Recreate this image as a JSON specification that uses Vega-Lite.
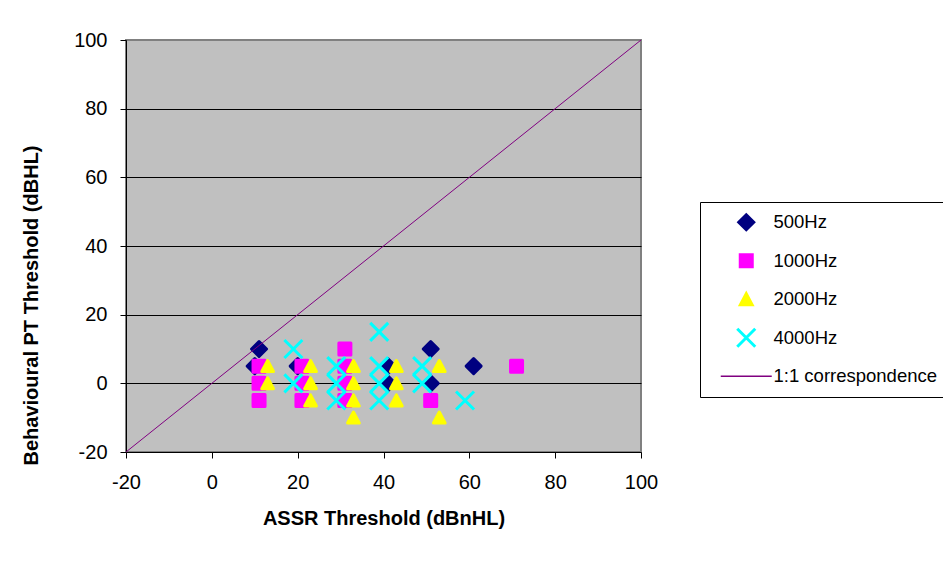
{
  "$schema": "https://vega.github.io/schema/vega-lite/v6.json",
  "width": 515,
  "height": 412,
  "autosize": {"type": "none"},
  "padding": {"left": 126, "top": 40, "right": 302, "bottom": 109},
  "background": "white",
  "config": {
    "font": "Liberation Sans",
    "view": {"fill": "#C0C0C0", "stroke": "#808080", "strokeWidth": 2},
    "axis": {
      "domainColor": "black",
      "tickColor": "black",
      "tickSize": 6,
      "labelFontSize": 20,
      "labelColor": "black",
      "titleFontSize": 20,
      "titleFontWeight": "bold",
      "titleColor": "black",
      "labelFont": "Liberation Sans",
      "titleFont": "Liberation Sans",
      "labelFlush": false,
      "labelOverlap": false,
      "labelExpr": "replace(datum.label, '\u2212', '-')"
    }
  },
  "datasets": {
    "points": [
      {"series": "500Hz", "x": 11, "y": 10},
      {"series": "500Hz", "x": 10, "y": 5},
      {"series": "500Hz", "x": 20, "y": 5},
      {"series": "500Hz", "x": 41, "y": 5},
      {"series": "500Hz", "x": 41, "y": 0},
      {"series": "500Hz", "x": 51, "y": 10},
      {"series": "500Hz", "x": 51, "y": 0},
      {"series": "500Hz", "x": 61, "y": 5},
      {"series": "1000Hz", "x": 11, "y": 5},
      {"series": "1000Hz", "x": 11, "y": 0},
      {"series": "1000Hz", "x": 11, "y": -5},
      {"series": "1000Hz", "x": 21, "y": 5},
      {"series": "1000Hz", "x": 21, "y": 0},
      {"series": "1000Hz", "x": 21, "y": -5},
      {"series": "1000Hz", "x": 31, "y": 10},
      {"series": "1000Hz", "x": 31, "y": 5},
      {"series": "1000Hz", "x": 31, "y": 0},
      {"series": "1000Hz", "x": 31, "y": -5},
      {"series": "1000Hz", "x": 51, "y": -5},
      {"series": "1000Hz", "x": 71, "y": 5},
      {"series": "2000Hz", "x": 13, "y": 5},
      {"series": "2000Hz", "x": 13, "y": 0},
      {"series": "2000Hz", "x": 23, "y": 5},
      {"series": "2000Hz", "x": 23, "y": 0},
      {"series": "2000Hz", "x": 23, "y": -5},
      {"series": "2000Hz", "x": 33, "y": 5},
      {"series": "2000Hz", "x": 33, "y": 0},
      {"series": "2000Hz", "x": 33, "y": -5},
      {"series": "2000Hz", "x": 33, "y": -10},
      {"series": "2000Hz", "x": 43, "y": 5},
      {"series": "2000Hz", "x": 43, "y": 0},
      {"series": "2000Hz", "x": 43, "y": -5},
      {"series": "2000Hz", "x": 53, "y": 5},
      {"series": "2000Hz", "x": 53, "y": -10},
      {"series": "4000Hz", "x": 19, "y": 10},
      {"series": "4000Hz", "x": 19, "y": 0},
      {"series": "4000Hz", "x": 29, "y": 5},
      {"series": "4000Hz", "x": 29, "y": 0},
      {"series": "4000Hz", "x": 29, "y": -5},
      {"series": "4000Hz", "x": 39, "y": 15},
      {"series": "4000Hz", "x": 39, "y": 5},
      {"series": "4000Hz", "x": 39, "y": 0},
      {"series": "4000Hz", "x": 39, "y": -5},
      {"series": "4000Hz", "x": 49, "y": 5},
      {"series": "4000Hz", "x": 49, "y": 0},
      {"series": "4000Hz", "x": 59, "y": -5}
    ],
    "diag": [
      {"series": "1:1 correspondence", "x": -20, "y": -20},
      {"series": "1:1 correspondence", "x": 100, "y": 100}
    ]
  },
  "layer": [
    {
      "data": {"name": "points"},
      "mark": {"type": "point", "filled": true, "opacity": 1, "size": 225, "strokeWidth": 3, "strokeJoin": "round"},
      "encoding": {
        "x": {
          "field": "x", "type": "quantitative",
          "scale": {"domain": [-20, 100], "nice": false, "zero": false},
          "axis": {"values": [-20, 0, 20, 40, 60, 80, 100], "grid": false, "labelPadding": 14, "titlePadding": 16, "title": "ASSR Threshold (dBnHL)"}
        },
        "y": {
          "field": "y", "type": "quantitative",
          "scale": {"domain": [-20, 100], "nice": false, "zero": false},
          "axis": {
            "values": [-20, 0, 20, 40, 60, 80, 100],
            "grid": true,
            "gridColor": {"condition": {"test": "datum.value == 100 || datum.value == -20", "value": "#808080"}, "value": "black"},
            "gridOpacity": 1,
            "labelPadding": 13,
            "titlePadding": 32,
            "titleY": 265,
            "title": "Behavioural PT Threshold (dBHL)"
          }
        },
        "color": {
          "field": "series", "type": "nominal",
          "scale": {
            "domain": ["500Hz", "1000Hz", "2000Hz", "4000Hz", "1:1 correspondence"],
            "range": ["#000080", "#FF00FF", "#FFFF00", "#00FFFF", "#800080"]
          },
          "legend": {
            "title": null,
            "orient": "none",
            "legendX": 574,
            "legendY": 162,
            "strokeColor": "black",
            "fillColor": "white",
            "padding": 11,
            "rowPadding": 7.5,
            "gridAlign": "all",
            "symbolOffset": 26,
            "labelOffset": 18,
            "labelLimit": 400,
            "labelFontSize": 18.5,
            "labelColor": "black",
            "labelFont": "Liberation Sans",
            "symbolSize": 225,
            "symbolStrokeWidth": 3,
            "symbolOpacity": 1
          }
        },
        "stroke": {
          "field": "series", "type": "nominal",
          "scale": {
            "domain": ["500Hz", "1000Hz", "2000Hz", "4000Hz", "1:1 correspondence"],
            "range": ["#000080", "#FF00FF", "#FFFF00", "#00FFFF", "transparent"]
          }
        },
        "shape": {
          "field": "series", "type": "nominal",
          "scale": {
            "domain": ["500Hz", "1000Hz", "2000Hz", "4000Hz", "1:1 correspondence"],
            "range": [
              "M0,-1L1,0L0,1L-1,0Z",
              "M-0.8,-0.8H0.8V0.8H-0.8Z",
              "M0,-0.75L0.78,0.72L-0.78,0.72Z",
              "M-1.2,-1.2L1.2,1.2M-1.2,1.2L1.2,-1.2",
              "M-3.4,-0.09H3.4V0.09H-3.4Z"
            ]
          }
        }
      }
    },
    {
      "data": {"name": "diag"},
      "mark": {"type": "line", "color": "#800080", "strokeWidth": 1},
      "encoding": {
        "x": {"field": "x", "type": "quantitative"},
        "y": {"field": "y", "type": "quantitative"}
      }
    }
  ]
}
